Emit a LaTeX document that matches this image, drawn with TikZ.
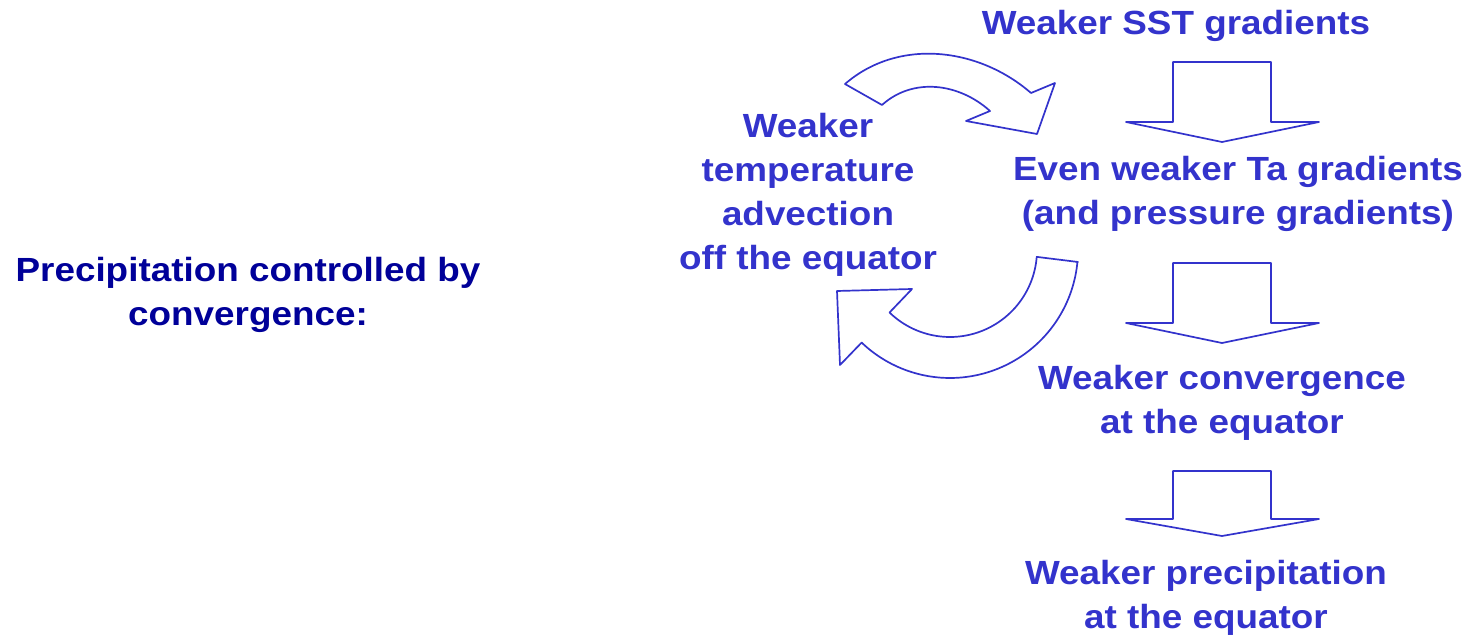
\documentclass[tikz,border=0pt]{standalone}
\usepackage{fontspec}
\setmainfont{Liberation Sans}[FakeStretch=1.1]
\definecolor{lblue}{RGB}{51,51,204}
\definecolor{navy}{RGB}{0,0,153}
\begin{document}
\begin{tikzpicture}[x=1pt,y=-1pt,
  lbl/.style={inner sep=0pt, align=center, text=lblue, font=\fontsize{33.5}{44}\selectfont\bfseries},
  flow/.style={draw=lblue, line width=1.7pt, line join=round, fill=white}]
\useasboundingbox (0,0) rectangle (1470,636);
\fill[white] (0,0) rectangle (1470,636);

% texts
\node[lbl, text=navy] (ctrl) at (248,295) {Precipitation controlled by\\convergence:};
\node[lbl] (sst) at (1176,26) {Weaker SST gradients};
\node[lbl] (ta) at (1238,194) {Even weaker Ta gradients\\(and pressure gradients)};
\node[lbl] (adv) at (808,195) {Weaker\\temperature\\advection\\off the equator};
\node[lbl] (conv) at (1222,403) {Weaker convergence\\at the equator};
\node[lbl] (prec) at (1206,598) {Weaker precipitation\\at the equator};

% block arrows
\draw[flow] (1173,62) -- (1271,62) -- (1271,122) -- (1319,122) -- (1222,142) -- (1126,122) -- (1173,122) -- cycle;
\draw[flow] (1173,263) -- (1271,263) -- (1271,323) -- (1319,323) -- (1222,343) -- (1126,323) -- (1173,323) -- cycle;
\draw[flow] (1173,471) -- (1271,471) -- (1271,519) -- (1319,519) -- (1222,536) -- (1126,519) -- (1173,519) -- cycle;

% curved arrow top (advection -> SST)
\draw[flow] (845,84) .. controls (898,38) and (978,47) .. (1031,93)
  -- (1055,83) -- (1037,134) -- (966,121) -- (990,111)
  .. controls (959,83) and (913,77) .. (882,105) -- cycle;

% curved arrow bottom (Ta -> advection)
\draw[flow] (1078,262)
  -- plot[domain=0:1, samples=40, smooth] ({950+128*cos(5.4+128.3*\x)}, {250+128*sin(5.4+128.3*\x)})
  -- (840,365) -- (837,291) -- (912,289) -- (890,312)
  -- plot[domain=0:1, samples=40, smooth] ({950+87*cos(134-129.5*\x)}, {250+87*sin(134-129.5*\x)})
  -- cycle;
\end{tikzpicture}
\end{document}
